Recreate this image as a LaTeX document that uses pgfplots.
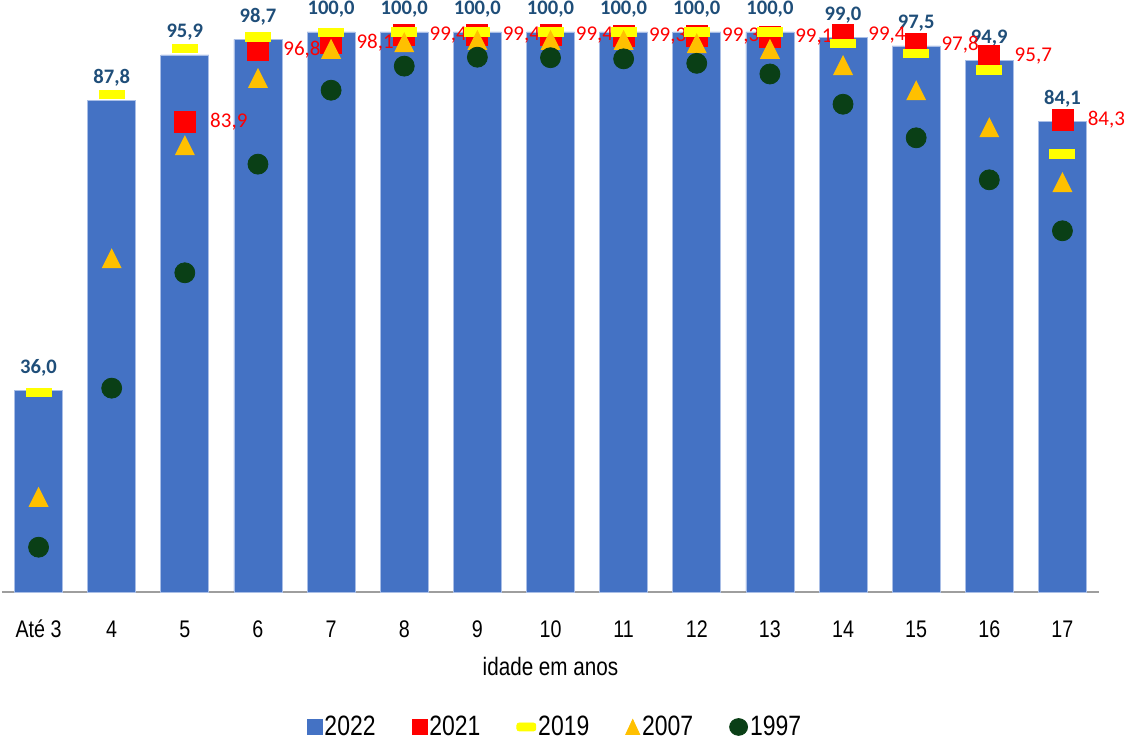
\documentclass[border=0pt]{standalone}
\usepackage{fontspec}
\usepackage{pgfplots}
\pgfplotsset{compat=1.18}
\setmainfont{Liberation Sans}
\newfontfamily\narrow[FakeStretch=0.82]{Liberation Sans}
\newfontfamily\carlito{Carlito}
\definecolor{barblue}{HTML}{4472C4}
\definecolor{baredge}{HTML}{A9BEE6}
\definecolor{lblblue}{HTML}{1F4E79}
\definecolor{myred}{HTML}{FF0000}
\definecolor{myyellow}{HTML}{FFFF00}
\definecolor{myorange}{HTML}{FFC000}
\definecolor{mygreen}{HTML}{0A3F16}
\pgfdeclareplotmark{ydash}{%
  \pgfsetcornersarced{\pgfpoint{1.6pt}{1.6pt}}%
  \pgfpathrectangle{\pgfpoint{-6.5pt}{-2.3pt}}{\pgfpoint{13pt}{4.6pt}}%
  \pgfusepathqfill}
\pgfdeclareplotmark{tri}{%
  \pgfpathmoveto{\pgfpoint{0pt}{5pt}}%
  \pgfpathlineto{\pgfpoint{-5pt}{-5pt}}%
  \pgfpathlineto{\pgfpoint{5pt}{-5pt}}%
  \pgfpathclose\pgfusepathqfill}
\begin{document}
\begin{tikzpicture}
\begin{axis}[
  scale only axis, width=548.5pt, height=296pt,
  xmin=-0.5, xmax=14.5, ymin=0, ymax=105.71,
  axis x line=bottom, axis y line=none, ytick=\empty,
  x axis line style={draw=black!38, line width=1pt, -},
  xtick={0,1,2,3,4,5,6,7,8,9,10,11,12,13,14},
  xticklabels={Até 3,4,5,6,7,8,9,10,11,12,13,14,15,16,17},
  major tick length=0pt,
  xticklabel style={font=\narrow\fontsize{12}{14}\selectfont, anchor=base, yshift=-22.5pt},
  xlabel={idade em anos},
  xlabel style={font=\narrow\fontsize{12.6}{14}\selectfont, at={(axis description cs:0.5,-0.1402)}, anchor=base},
  clip=false,
  legend columns=5,
  legend style={at={(0.504,-0.228)}, anchor=center, draw=none, fill=none,
    font=\narrow\fontsize{14}{16}\selectfont,
    /tikz/every even column/.append style={column sep=17pt},
    nodes={inner sep=1pt}},
]
\addplot[ybar, bar width=24pt, fill=barblue, draw=baredge, line width=0.4pt,
  legend image code/.code={\fill[barblue] (0pt,-3.75pt) rectangle (7.5pt,3.75pt);},
  nodes near coords,
  nodes near coords style={font=\carlito\bfseries\fontsize{10.3}{12}\selectfont, text=lblblue, anchor=base, yshift=8.5pt, inner sep=0pt},
  /pgf/number format/.cd, fixed, fixed zerofill, precision=1, use comma, assume math mode=true]
  table {
x y
0 36.0
1 87.8
2 95.9
3 98.7
4 100.0
5 100.0
6 100.0
7 100.0
8 100.0
9 100.0
10 100.0
11 99.0
12 97.5
13 94.9
14 84.1
};
\addlegendentry{2022}
\addplot[only marks, mark=square*, mark size=5.25pt, color=myred,
  legend image code/.code={\fill[myred] (0pt,-3.75pt) rectangle (7.5pt,3.75pt);},
  nodes near coords,
  nodes near coords style={font=\carlito\fontsize{10.5}{12}\selectfont, text=myred, anchor=west, xshift=12.5pt, inner sep=0pt},
  /pgf/number format/.cd, fixed, fixed zerofill, precision=1, use comma, assume math mode=true]
  table {
x y
2 83.9
3 96.8
4 98.1
5 99.4
6 99.4
7 99.4
8 99.3
9 99.3
10 99.1
11 99.4
12 97.8
13 95.7
14 84.3
};
\addlegendentry{2021}
\addplot[only marks, mark=ydash, color=myyellow,
  legend image code/.code={\fill[myyellow, rounded corners=1.2pt] (-0.5pt,-2pt) rectangle (9pt,2pt);}]
  table {
x y
0 35.6
1 88.9
2 97.0
3 99.1
4 99.9
5 100.0
6 100.0
7 100.0
8 100.0
9 100.0
10 100.0
11 98.0
12 96.1
13 93.2
14 78.2
};
\addlegendentry{2019}
\addplot[only marks, mark=tri, color=myorange,
  legend image code/.code={\fill[myorange] (0pt,-3.75pt) -- (7pt,-3.75pt) -- (3.5pt,3.75pt) -- cycle;}]
  table {
x y
0 17.0
1 59.6
2 79.8
3 91.8
4 97.0
5 98.2
6 98.6
7 98.6
8 98.6
9 98.0
10 97.0
11 94.1
12 89.6
13 83.0
14 73.2
};
\addlegendentry{2007}
\addplot[only marks, mark=*, mark size=5pt, color=mygreen,
  legend image code/.code={\fill[mygreen] (4pt,0pt) ellipse (4.5pt and 4.2pt);}]
  table {
x y
0 8.0
1 36.4
2 57.0
3 76.4
4 89.6
5 93.9
6 95.5
7 95.4
8 95.2
9 94.4
10 92.5
11 87.1
12 81.1
13 73.6
14 64.5
};
\addlegendentry{1997}
\end{axis}
\pgfresetboundingbox
\useasboundingbox (-1pt,-76.5pt) rectangle (561.5pt,296pt);
\end{tikzpicture}
\end{document}
